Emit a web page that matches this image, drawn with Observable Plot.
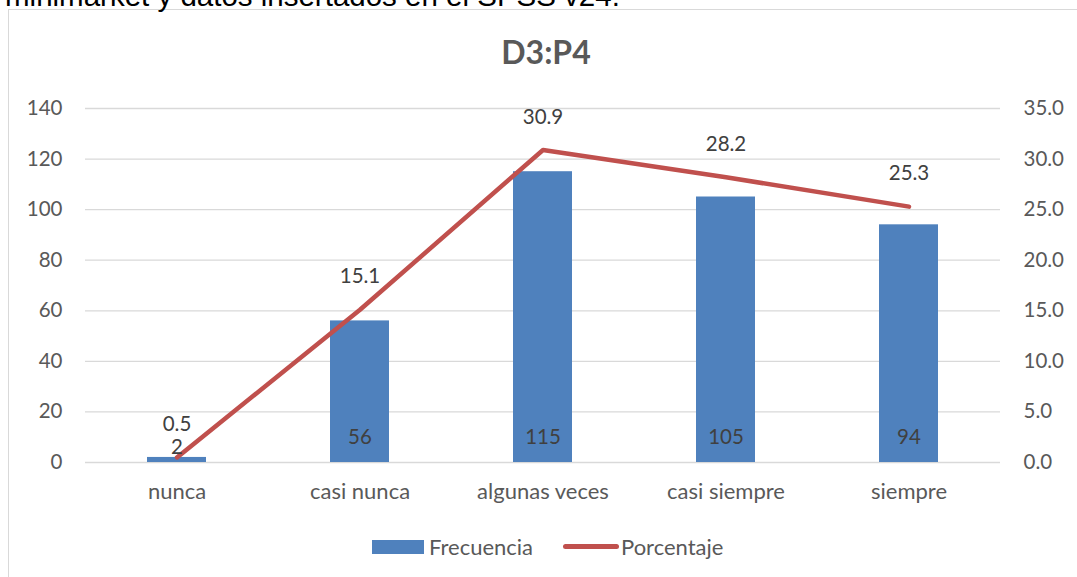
<!DOCTYPE html>
<html>
<head>
<meta charset="utf-8">
<script src="https://cdn.jsdelivr.net/npm/d3@7"></script>
<script src="https://cdn.jsdelivr.net/npm/@observablehq/plot@0.6"></script>
<style>
  html, body { margin: 0; padding: 0; background: #fff; overflow: hidden; }
  #wrap { position: relative; width: 1077px; height: 577px; overflow: hidden; font-family: Lato, "Open Sans", sans-serif; }
  #toptext { position: absolute; left: 5px; top: -21px; font-family: "Liberation Sans", Arial, sans-serif; font-size: 29.5px; line-height: 34px; color: #000; white-space: nowrap; }
  #frame { position: absolute; left: 8px; top: 9px; width: 1200px; height: 700px; border: 1.5px solid #d9d9d9; box-sizing: border-box; background: #fff; }
  #chart { position: absolute; left: 0; top: 0; }
  #title { position: absolute; left: 0; width: 1092px; top: 32px; text-align: center; font-weight: bold; font-size: 32px; color: #595959; }
  #legend { position: absolute; top: 534px; left: 0; width: 1077px; height: 26px; font-size: 22px; color: #595959; }
  .sw { position: absolute; }
  .lt { position: absolute; top: 0; line-height: 26px; }
</style>
</head>
<body>
<div id="wrap">
  <div id="frame"></div>
  <div id="toptext">minimarket y datos insertados en el SPSS v24.</div>
  <div id="chart"></div>
  <div id="title">D3:P4</div>
  <div id="legend">
    <div class="sw" style="left:372px; top:6px; width:52px; height:14px; background:#4F81BD;"></div>
    <div class="lt" style="left:429px;">Frecuencia</div>
    <div class="sw" style="left:563px; top:10px; width:56px; height:5px; border-radius:3px; background:#C0504D;"></div>
    <div class="lt" style="left:621px;">Porcentaje</div>
  </div>
</div>
<script>
const categories = ["nunca", "casi nunca", "algunas veces", "casi siempre", "siempre"];
const frecuencia = [2, 56, 115, 105, 94];
const porcentaje = [0.5, 15.1, 30.9, 28.2, 25.3];
const leftTicks = [0, 20, 40, 60, 80, 100, 120, 140];

const ratio = 4; // 140 / 35
const data = categories.map((c, i) => ({cat: c, freq: frecuencia[i], pct: porcentaje[i]}));

const chart = Plot.plot({
  width: 1077,
  height: 577,
  marginLeft: 85,
  marginRight: 77,
  marginTop: 108,
  marginBottom: 115,
  style: {fontFamily: "Lato, 'Open Sans', sans-serif", fontSize: "21px", color: "#595959", background: "transparent"},
  x: {domain: categories, paddingInner: 0.68, paddingOuter: 0.34},
  y: {domain: [0, 140]},
  marks: [
    Plot.gridY(leftTicks, {stroke: "#d9d9d9", strokeOpacity: 1, strokeWidth: 1.3}),
    Plot.barY(data, {x: "cat", y: "freq", fill: "#4F81BD"}),
    Plot.line(data, {x: "cat", y: d => d.pct * ratio, stroke: "#C0504D", strokeWidth: 4.5, strokeLinecap: "round", strokeLinejoin: "round"}),
    Plot.text(data.filter(d => d.freq >= 10), {x: "cat", y: 0, text: d => String(d.freq), dy: -25, fill: "#404040", fontSize: 20.5}),
    Plot.text(data.filter(d => d.freq < 10), {x: "cat", y: 0, text: d => String(d.freq), dy: -15, fill: "#404040", fontSize: 20.5}),
    Plot.text(data, {x: "cat", y: d => d.pct * ratio, text: d => d.pct.toFixed(1), dy: -33, fill: "#404040", fontSize: 20.5}),
    Plot.axisY(leftTicks, {anchor: "left", tickSize: 0, tickPadding: 23, label: null, fontSize: 20.5}),
    Plot.axisY(leftTicks, {anchor: "right", tickSize: 0, tickPadding: 23, label: null, fontSize: 20.5, tickFormat: d => (d / ratio).toFixed(1)}),
    Plot.axisX({tickSize: 0, tickPadding: 21, label: null, fontSize: 22})
  ]
});
document.getElementById("chart").appendChild(chart);
</script>
</body>
</html>
